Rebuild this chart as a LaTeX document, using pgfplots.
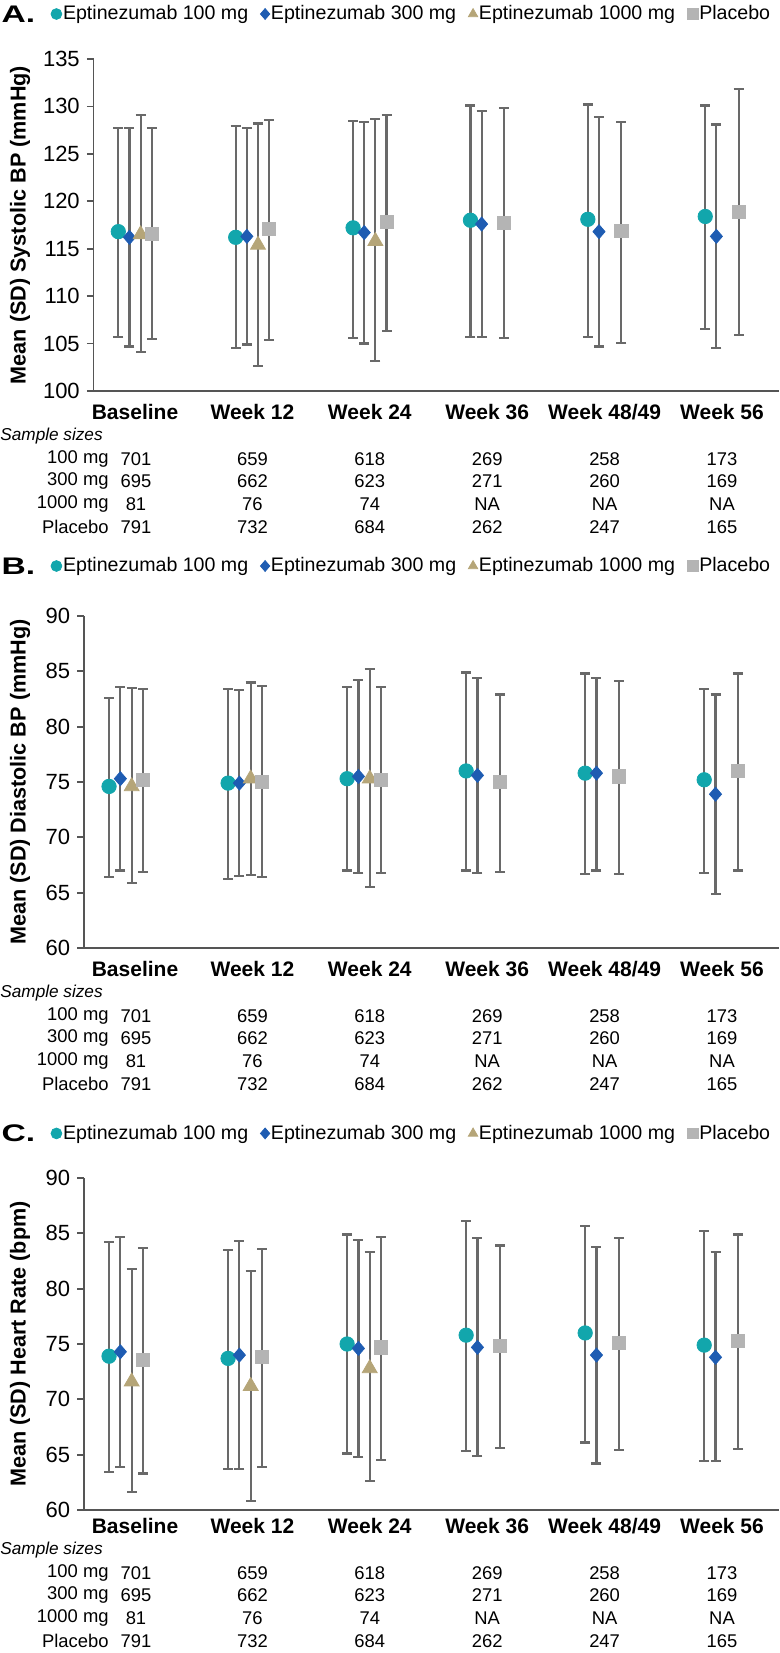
\documentclass[border=0pt]{standalone}
\usepackage{fontspec}
\setmainfont{Liberation Sans}
\usepackage{pgfplots}
\usepackage{pgfplotstable}
\pgfplotsset{compat=1.18}

\definecolor{c100}{RGB}{18,166,172}
\definecolor{c300}{RGB}{30,92,178}
\definecolor{c1000}{RGB}{181,165,120}
\definecolor{cpla}{RGB}{180,180,180}
\definecolor{errgray}{RGB}{105,105,105}
\definecolor{axgray}{RGB}{85,85,85}

% columns: g = visit, a = 100 mg, b = 300 mg, p = placebo (mean, mean-SD, mean+SD)
\pgfplotstableread{
g a alo ahi b blo bhi p plo phi
1 116.8 105.7 127.7 116.2 104.7 127.7 116.6 105.5 127.7
2 116.2 104.5 127.9 116.3 104.9 127.7 117.1 105.4 128.6
3 117.2 105.6 128.5 116.7 105.0 128.4 117.8 106.3 129.1
4 118.0 105.7 130.1 117.6 105.7 129.5 117.7 105.6 129.8
5 118.1 105.7 130.2 116.8 104.7 128.9 116.9 105.1 128.4
6 118.4 106.5 130.1 116.3 104.5 128.1 118.9 105.9 131.8
}\sbp
\pgfplotstableread{
g t tlo thi
1 116.5 104.1 129.1
2 115.4 102.6 128.2
3 115.8 103.2 128.7
}\sbpt
\pgfplotstableread{
g a alo ahi b blo bhi p plo phi
1 74.6 66.4 82.6 75.3 67.0 83.6 75.2 66.9 83.4
2 74.9 66.2 83.4 74.9 66.5 83.3 75.0 66.4 83.7
3 75.3 67.0 83.6 75.5 66.8 84.2 75.2 66.8 83.6
4 76.0 67.0 84.9 75.6 66.8 84.4 75.0 66.9 82.9
5 75.8 66.7 84.8 75.8 67.0 84.4 75.5 66.7 84.1
6 75.2 66.8 83.4 73.9 64.9 82.9 76.0 67.0 84.8
}\dbp
\pgfplotstableread{
g t tlo thi
1 74.6 65.9 83.5
2 75.3 66.6 84.0
3 75.3 65.5 85.2
}\dbpt
\pgfplotstableread{
g a alo ahi b blo bhi p plo phi
1 73.9 63.4 84.2 74.3 63.9 84.7 73.6 63.3 83.7
2 73.7 63.7 83.5 74.0 63.7 84.3 73.8 63.9 83.6
3 75.0 65.1 84.9 74.6 64.8 84.4 74.7 64.5 84.7
4 75.8 65.3 86.1 74.7 64.9 84.6 74.8 65.6 83.9
5 76.0 66.1 85.7 74.0 64.2 83.8 75.1 65.4 84.6
6 74.9 64.4 85.2 73.8 64.4 83.3 75.3 65.5 84.9
}\hr
\pgfplotstableread{
g t tlo thi
1 71.6 61.6 81.8
2 71.2 60.8 81.6
3 72.8 62.6 83.3
}\hrt

\pgfplotsset{
  s100/.style={only marks,mark=*,mark size=3.6pt,color=c100},
  s300/.style={only marks,mark=diamond*,mark size=3.5pt,color=c300,mark options={xscale=1.15}},
  s1000/.style={only marks,mark=triangle*,mark size=4.3pt,color=c1000},
  spla/.style={only marks,mark=square*,mark size=3.3pt,color=cpla},
  eb/.style={error bars/.cd,y dir=both,y explicit},
  panel/.style={
    scale only axis,height=166pt,xmin=0.647,xmax=6.486,
    axis x line*=bottom,axis y line*=left,
    axis line style={axgray,line width=0.9pt,-},
    xtick=\empty,tick align=outside,major tick length=3.4pt,
    ytick style={axgray,line width=0.9pt},
    /pgf/number format/assume math mode=true,
    yticklabel style={font=\fontsize{11}{13}\selectfont},
    ylabel style={font=\bfseries\fontsize{10.8}{12}\selectfont,anchor=center},
    legend columns=4,
    legend style={draw=none,fill=none,inner sep=0pt,anchor=west,
      font=\fontsize{9.8}{11}\selectfont,
      nodes={inner sep=0.6pt},
      /tikz/every even column/.append style={column sep=5.5pt}},
    legend image code/.code={\draw[##1,mark size=2.7pt] plot coordinates {(0pt,0pt)};},
    error bars/error bar style={errgray,line width=1.1pt},
    error bars/error mark options={rotate=90,errgray,mark size=2.5pt,line width=1.1pt},
    clip=false},
}

\newcommand{\fourseries}[2]{%
  \addplot[s100,eb] table[x expr=\thisrow{g}-0.1425,y=a,
    y error plus expr=\thisrow{ahi}-\thisrow{a},y error minus expr=\thisrow{a}-\thisrow{alo}]{#1};
  \addplot[s300,eb] table[x expr=\thisrow{g}-0.0475,y=b,
    y error plus expr=\thisrow{bhi}-\thisrow{b},y error minus expr=\thisrow{b}-\thisrow{blo}]{#1};
  \addplot[s1000,eb] table[x expr=\thisrow{g}+0.0475,y=t,
    y error plus expr=\thisrow{thi}-\thisrow{t},y error minus expr=\thisrow{t}-\thisrow{tlo}]{#2};
  \addplot[spla,eb] table[x expr=\thisrow{g}+0.1425,y=p,
    y error plus expr=\thisrow{phi}-\thisrow{p},y error minus expr=\thisrow{p}-\thisrow{plo}]{#1};
  \legend{Eptinezumab 100 mg,Eptinezumab 300 mg,Eptinezumab 1000 mg,Placebo}
}

\newcommand{\tabfont}{\fontsize{9.2}{10}\selectfont}
% #1 = y of the axis bottom (pt), #2 = y of the panel letter (pt), #3 = letter
\newcommand{\panelextras}[3]{%
  \node[anchor=west,inner sep=0pt,font=\bfseries\fontsize{12}{14}\selectfont,xscale=1.4,transform shape] at (0.5pt,#2pt) {#3};
  \foreach \cx/\lab in {67.5/Baseline,126.2/Week 12,184.9/Week 24,243.6/Week 36,302.3/{Week 48/49},361/Week 56}
    \node[font=\bfseries\fontsize{10.5}{12}\selectfont] at (\cx pt,#1pt-10.5pt) {\lab};
  \node[anchor=west,inner sep=0pt,font=\itshape\fontsize{8.6}{10}\selectfont] at (0pt,#1pt-22.7pt) {Sample sizes};
  \node[anchor=east,inner sep=0pt,font=\tabfont] at (54.5pt,#1pt-33.9pt) {100 mg};
  \node[anchor=east,inner sep=0pt,font=\tabfont] at (54.5pt,#1pt-45.1pt) {300 mg};
  \node[anchor=east,inner sep=0pt,font=\tabfont] at (54.5pt,#1pt-56.6pt) {1000 mg};
  \node[anchor=east,inner sep=0pt,font=\tabfont] at (54.5pt,#1pt-68pt) {Placebo};
  \foreach \cx/\na/\nb/\nc/\nd in {68/701/695/81/791,126.2/659/662/76/732,184.9/618/623/74/684,
      243.6/269/271/NA/262,302.3/258/260/NA/247,361/173/169/NA/165}{
    \node[inner sep=0pt,font=\tabfont] at (\cx pt,#1pt-33.9pt) {\na};
    \node[inner sep=0pt,font=\tabfont] at (\cx pt,#1pt-45.1pt) {\nb};
    \node[inner sep=0pt,font=\tabfont] at (\cx pt,#1pt-56.6pt) {\nc};
    \node[inner sep=0pt,font=\tabfont] at (\cx pt,#1pt-68pt) {\nd};
  }
}

\begin{document}
\begin{tikzpicture}
\useasboundingbox (0,0) rectangle (390pt,-826.5pt);

% A. systolic BP
\begin{axis}[panel,at={(46.8pt,-29.5pt)},anchor=north west,width=342.7pt,
  ymin=100,ymax=135,ytick={100,105,...,135},
  ylabel={Mean (SD) Systolic BP (mmHg)},
  ylabel style={at={(axis description cs:-0.1074,0.5)}},
  legend style={at={(axis description cs:-0.0627,1.1355)}}]
\fourseries{\sbp}{\sbpt}
\end{axis}
\panelextras{-195.5}{-7}{A.}

% B. diastolic BP
\begin{axis}[panel,at={(42pt,-308pt)},anchor=north west,width=347.5pt,
  ymin=60,ymax=90,ytick={60,65,...,90},
  ylabel={Mean (SD) Diastolic BP (mmHg)},
  ylabel style={at={(axis description cs:-0.0921,0.5)}},
  legend style={at={(axis description cs:-0.048,1.1506)}}]
\fourseries{\dbp}{\dbpt}
\end{axis}
\panelextras{-474}{-283}{B.}

% C. heart rate
\begin{axis}[panel,at={(42pt,-589pt)},anchor=north west,width=347.5pt,
  ymin=60,ymax=90,ytick={60,65,...,90},
  ylabel={Mean (SD) Heart Rate (bpm)},
  ylabel style={at={(axis description cs:-0.0921,0.5)}},
  legend style={at={(axis description cs:-0.048,1.1343)}}]
\fourseries{\hr}{\hrt}
\end{axis}
\panelextras{-752.5}{-566.7}{C.}
\end{tikzpicture}
\end{document}
